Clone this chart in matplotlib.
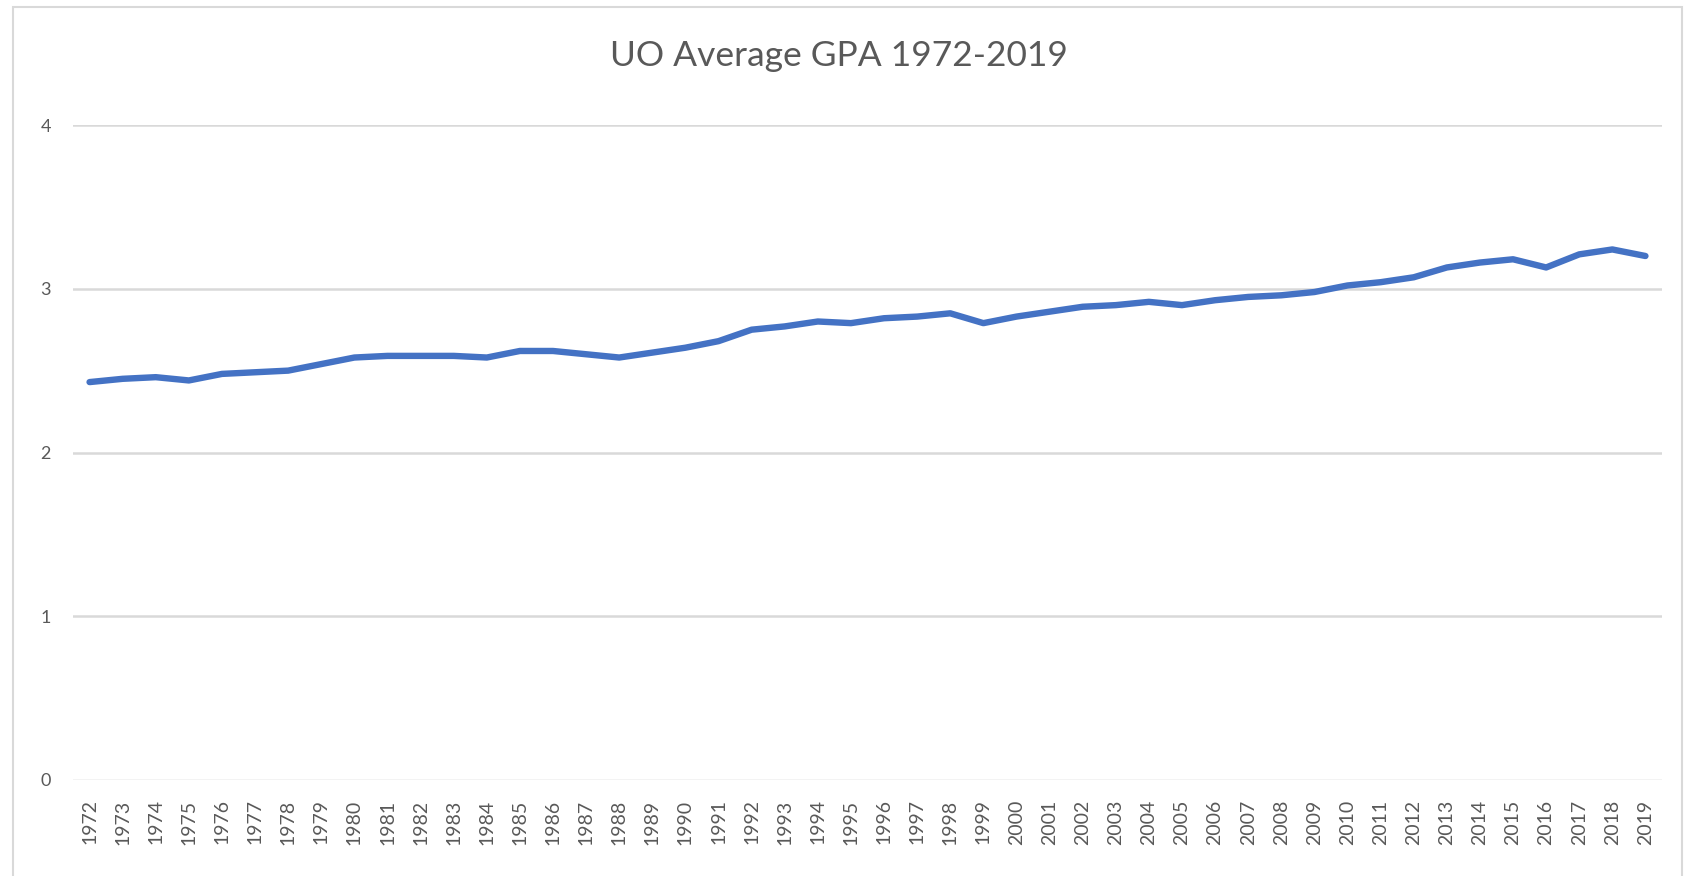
import matplotlib.pyplot as plt
from matplotlib.patches import Rectangle

# Данные: средний GPA по годам
years = list(range(1972, 2020))
gpa = [2.43, 2.45, 2.46, 2.44, 2.48, 2.49, 2.50, 2.54, 2.58, 2.59,
       2.59, 2.59, 2.58, 2.62, 2.62, 2.60, 2.58, 2.61, 2.64, 2.68,
       2.75, 2.77, 2.80, 2.79, 2.82, 2.83, 2.85, 2.79, 2.83, 2.86,
       2.89, 2.90, 2.92, 2.90, 2.93, 2.95, 2.96, 2.98, 3.02, 3.04,
       3.07, 3.13, 3.16, 3.18, 3.13, 3.21, 3.24, 3.20]
y_ticks = [0, 1, 2, 3, 4]

plt.rcParams['font.family'] = ['Lato', 'DejaVu Sans']
text_color = '#595959'

fig = plt.figure(figsize=(16.87, 8.76), dpi=100)
ax = fig.add_axes([73 / 1687, 1 - 780 / 876, (1662 - 73) / 1687, (780 - 125) / 876])

x = range(len(years))
ax.plot(x, gpa, color='#4472C4', linewidth=4.6, solid_joinstyle='round', solid_capstyle='round')

ax.set_xlim(-0.5, len(years) - 0.5)
ax.set_ylim(0, 4)
ax.set_yticks(y_ticks)
ax.set_xticks(list(x))
ax.set_xticklabels([str(y) for y in years], rotation=90)

ax.grid(True, axis='y', color='#d9d9d9', linewidth=1.8)
ax.get_ygridlines()[0].set_color('#f0f0f0')
ax.set_axisbelow(True)
for side in ['top', 'right', 'left', 'bottom']:
    ax.spines[side].set_visible(False)
ax.tick_params(axis='both', length=0, colors=text_color)
ax.tick_params(axis='y', labelsize=13, pad=16)
ax.tick_params(axis='x', labelsize=14, pad=14)

fig.text(839 / 1687, 1 - 56 / 876, 'UO Average GPA 1972-2019', ha='center', va='center',
         fontsize=25.5, color=text_color)

# Рамка области диаграммы
fig.patches.append(Rectangle((13 / 1687, -0.02), (1682 - 13) / 1687, 1 - 7 / 876 + 0.02,
                             transform=fig.transFigure, fill=False,
                             edgecolor='#d9d9d9', linewidth=1.5))

fig.savefig('out.png', dpi=100)
